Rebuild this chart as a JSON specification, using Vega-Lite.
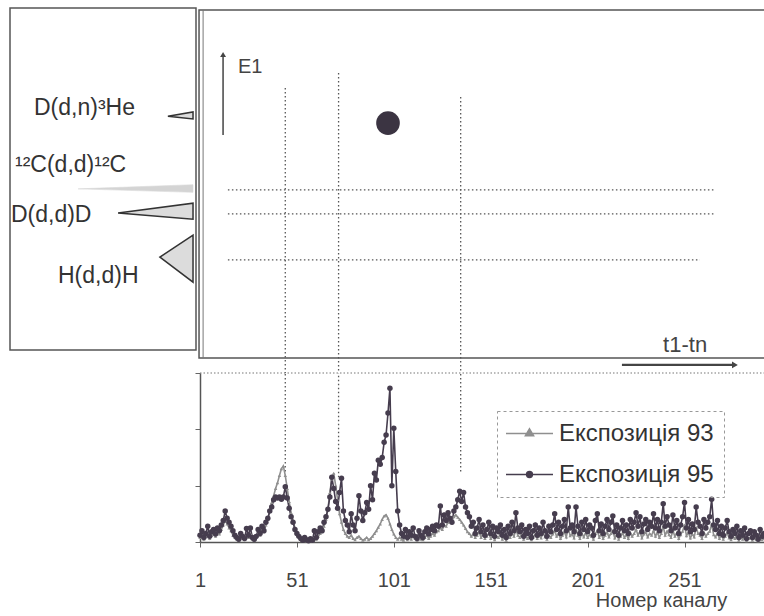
{
"$schema": "https://vega.github.io/schema/vega-lite/v6.json",
"width": 764, "height": 616, "padding": 0, "autosize": {"type": "none"},
"background": "white",
"config": {"view": {"stroke": null}, "font": "Liberation Sans", "legend": {"strokeDash": [3, 3]}},
"datasets": {
"triangles": [
 {"reaction":"D(d,n)³He","intensity":15.1,"e1_low":69.5,"e1_high":69.5},
 {"reaction":"D(d,n)³He","intensity":1.6,"e1_low":68.7,"e1_high":70.7},
 {"reaction":"¹²C(d,d)¹²C","intensity":63.4,"e1_low":48.6,"e1_high":48.6},
 {"reaction":"¹²C(d,d)¹²C","intensity":1.6,"e1_low":47.6,"e1_high":49.8},
 {"reaction":"D(d,d)D","intensity":41.9,"e1_low":41.7,"e1_high":41.7},
 {"reaction":"D(d,d)D","intensity":1.6,"e1_low":39.9,"e1_high":44.5},
 {"reaction":"H(d,d)H","intensity":19.4,"e1_low":29.0,"e1_high":29.0},
 {"reaction":"H(d,d)H","intensity":1.6,"e1_low":21.8,"e1_high":35.3}
],
"levels": [
 {"reaction":"¹²C(d,d)¹²C","e1":48.3,"t_from":15.4,"t_to":266.7},
 {"reaction":"D(d,d)D","e1":41.4,"t_from":15.4,"t_to":266.7},
 {"reaction":"H(d,d)H","e1":28.2,"t_from":15.4,"t_to":259.0}
],
"peaks": [
 {"peak_channel":45,"e1_top":77.6,"count_low":125},
 {"peak_channel":72.5,"e1_top":81.9,"count_low":115},
 {"peak_channel":135.5,"e1_top":75.0,"count_low":125}
],
"event": [{"t_channel":98,"e1":67.5}],
"spectra": [
{"channel":1,"Експозиція 93":8,"Експозиція 95":12},
{"channel":2,"Експозиція 93":12,"Експозиція 95":20},
{"channel":3,"Експозиція 93":5,"Експозиція 95":8},
{"channel":4,"Експозиція 93":10,"Експозиція 95":15},
{"channel":5,"Експозиція 93":15,"Експозиція 95":28},
{"channel":6,"Експозиція 93":6,"Експозиція 95":10},
{"channel":7,"Експозиція 93":12,"Експозиція 95":18},
{"channel":8,"Експозиція 93":15,"Експозиція 95":22},
{"channel":9,"Експозиція 93":10,"Експозиція 95":14},
{"channel":10,"Експозиція 93":18,"Експозиція 95":25},
{"channel":11,"Експозиція 93":14,"Експозиція 95":20},
{"channel":12,"Експозиція 93":22,"Експозиція 95":30},
{"channel":13,"Експозиція 93":30,"Експозиція 95":38},
{"channel":14,"Експозиція 93":38,"Експозиція 95":55},
{"channel":15,"Експозиція 93":32,"Експозиція 95":42},
{"channel":16,"Експозиція 93":25,"Експозиція 95":35},
{"channel":17,"Експозиція 93":20,"Експозиція 95":28},
{"channel":18,"Експозиція 93":12,"Експозиція 95":20},
{"channel":19,"Експозиція 93":8,"Експозиція 95":12},
{"channel":20,"Експозиція 93":5,"Експозиція 95":8},
{"channel":21,"Експозиція 93":3,"Експозиція 95":5},
{"channel":22,"Експозиція 93":10,"Експозиція 95":15},
{"channel":23,"Експозиція 93":6,"Експозиція 95":10},
{"channel":24,"Експозиція 93":4,"Експозиція 95":6},
{"channel":25,"Експозиція 93":12,"Експозиція 95":24},
{"channel":26,"Експозиція 93":8,"Експозиція 95":12},
{"channel":27,"Експозиція 93":15,"Експозиція 95":25},
{"channel":28,"Експозиція 93":5,"Експозиція 95":8},
{"channel":29,"Експозиція 93":3,"Експозиція 95":5},
{"channel":30,"Експозиція 93":8,"Експозиція 95":10},
{"channel":31,"Експозиція 93":15,"Експозиція 95":22},
{"channel":32,"Експозиція 93":12,"Експозиція 95":15},
{"channel":33,"Експозиція 93":22,"Експозиція 95":28},
{"channel":34,"Експозиція 93":18,"Експозиція 95":20},
{"channel":35,"Експозиція 93":30,"Експозиція 95":35},
{"channel":36,"Експозиція 93":40,"Експозиція 95":42},
{"channel":37,"Експозиція 93":55,"Експозиція 95":55},
{"channel":38,"Експозиція 93":70,"Експозиція 95":62},
{"channel":39,"Експозиція 93":82,"Експозиція 95":75},
{"channel":40,"Експозиція 93":95,"Експозиція 95":80},
{"channel":41,"Експозиція 93":105,"Експозиція 95":78},
{"channel":42,"Експозиція 93":118,"Експозиція 95":80},
{"channel":43,"Експозиція 93":130,"Експозиція 95":76},
{"channel":44,"Експозиція 93":135,"Експозиція 95":80},
{"channel":45,"Експозиція 93":118,"Експозиція 95":98},
{"channel":46,"Експозиція 93":95,"Експозиція 95":78},
{"channel":47,"Експозиція 93":72,"Експозиція 95":60},
{"channel":48,"Експозиція 93":52,"Експозиція 95":45},
{"channel":49,"Експозиція 93":38,"Експозиція 95":35},
{"channel":50,"Експозиція 93":25,"Експозиція 95":22},
{"channel":51,"Експозиція 93":15,"Експозиція 95":15},
{"channel":52,"Експозиція 93":10,"Експозиція 95":10},
{"channel":53,"Експозиція 93":5,"Експозиція 95":6},
{"channel":54,"Експозиція 93":3,"Експозиція 95":3},
{"channel":55,"Експозиція 93":4,"Експозиція 95":8},
{"channel":56,"Експозиція 93":2,"Експозиція 95":4},
{"channel":57,"Експозиція 93":1,"Експозиція 95":2},
{"channel":58,"Експозиція 93":3,"Експозиція 95":6},
{"channel":59,"Експозиція 93":2,"Експозиція 95":3},
{"channel":60,"Експозиція 93":8,"Експозиція 95":20},
{"channel":61,"Експозиція 93":5,"Експозиція 95":8},
{"channel":62,"Експозиція 93":10,"Експозиція 95":18},
{"channel":63,"Експозиція 93":15,"Експозиція 95":25},
{"channel":64,"Експозиція 93":18,"Експозиція 95":20},
{"channel":65,"Експозиція 93":28,"Експозиція 95":35},
{"channel":66,"Експозиція 93":40,"Експозиція 95":45},
{"channel":67,"Експозиція 93":58,"Експозиція 95":58},
{"channel":68,"Експозиція 93":88,"Експозиція 95":80},
{"channel":69,"Експозиція 93":112,"Експозиція 95":115},
{"channel":70,"Експозиція 93":122,"Експозиція 95":95},
{"channel":71,"Експозиція 93":100,"Експозиція 95":72},
{"channel":72,"Експозиція 93":75,"Експозиція 95":60},
{"channel":73,"Експозиція 93":50,"Експозиція 95":88},
{"channel":74,"Експозиція 93":35,"Експозиція 95":113},
{"channel":75,"Експозиція 93":22,"Експозиція 95":55},
{"channel":76,"Експозиція 93":15,"Експозиція 95":38},
{"channel":77,"Експозиція 93":10,"Експозиція 95":30},
{"channel":78,"Експозиція 93":8,"Експозиція 95":18},
{"channel":79,"Експозиція 93":12,"Експозиція 95":50},
{"channel":80,"Експозиція 93":6,"Експозиція 95":30},
{"channel":81,"Експозиція 93":4,"Експозиція 95":20},
{"channel":82,"Експозиція 93":8,"Експозиція 95":42},
{"channel":83,"Експозиція 93":10,"Експозиція 95":82},
{"channel":84,"Експозиція 93":6,"Експозиція 95":55},
{"channel":85,"Експозиція 93":3,"Експозиція 95":38},
{"channel":86,"Експозиція 93":5,"Експозиція 95":52},
{"channel":87,"Експозиція 93":8,"Експозиція 95":70},
{"channel":88,"Експозиція 93":4,"Експозиція 95":58},
{"channel":89,"Експозиція 93":6,"Експозиція 95":100},
{"channel":90,"Експозиція 93":10,"Експозиція 95":75},
{"channel":91,"Експозиція 93":15,"Експозиція 95":122},
{"channel":92,"Експозиція 93":20,"Експозиція 95":110},
{"channel":93,"Експозиція 93":26,"Експозиція 95":145},
{"channel":94,"Експозиція 93":32,"Експозиція 95":138},
{"channel":95,"Експозиція 93":40,"Експозиція 95":150},
{"channel":96,"Експозиція 93":46,"Експозиція 95":177},
{"channel":97,"Експозиція 93":48,"Експозиція 95":190},
{"channel":98,"Експозиція 93":42,"Експозиція 95":229},
{"channel":99,"Експозиція 93":32,"Експозиція 95":273},
{"channel":100,"Експозиція 93":22,"Експозиція 95":100},
{"channel":101,"Експозиція 93":14,"Експозиція 95":202},
{"channel":102,"Експозиція 93":8,"Експозиція 95":125},
{"channel":103,"Експозиція 93":5,"Експозиція 95":55},
{"channel":104,"Експозиція 93":8,"Експозиція 95":30},
{"channel":105,"Експозиція 93":5,"Експозиція 95":15},
{"channel":106,"Експозиція 93":3,"Експозиція 95":10},
{"channel":107,"Експозиція 93":10,"Експозиція 95":22},
{"channel":108,"Експозиція 93":4,"Експозиція 95":8},
{"channel":109,"Експозиція 93":8,"Експозиція 95":18},
{"channel":110,"Експозиція 93":5,"Експозиція 95":12},
{"channel":111,"Експозиція 93":12,"Експозиція 95":25},
{"channel":112,"Експозиція 93":6,"Експозиція 95":10},
{"channel":113,"Експозиція 93":3,"Експозиція 95":6},
{"channel":114,"Експозиція 93":10,"Експозиція 95":20},
{"channel":115,"Експозиція 93":5,"Експозиція 95":12},
{"channel":116,"Експозиція 93":4,"Експозиція 95":8},
{"channel":117,"Експозиція 93":8,"Експозиція 95":18},
{"channel":118,"Експозиція 93":12,"Експозиція 95":25},
{"channel":119,"Експозиція 93":6,"Експозиція 95":14},
{"channel":120,"Експозиція 93":10,"Експозиція 95":22},
{"channel":121,"Експозиція 93":15,"Експозиція 95":28},
{"channel":122,"Експозиція 93":12,"Експозиція 95":20},
{"channel":123,"Експозиція 93":18,"Експозиція 95":30},
{"channel":124,"Експозиція 93":20,"Експозиція 95":28},
{"channel":125,"Експозиція 93":25,"Експозиція 95":64},
{"channel":126,"Експозиція 93":22,"Експозиція 95":30},
{"channel":127,"Експозиція 93":30,"Експозиція 95":48},
{"channel":128,"Експозиція 93":28,"Експозиція 95":38},
{"channel":129,"Експозиція 93":35,"Експозиція 95":52},
{"channel":130,"Експозиція 93":38,"Експозиція 95":42},
{"channel":131,"Експозиція 93":42,"Експозиція 95":35},
{"channel":132,"Експозиція 93":45,"Експозиція 95":55},
{"channel":133,"Експозиція 93":48,"Експозиція 95":62},
{"channel":134,"Експозиція 93":44,"Експозиція 95":75},
{"channel":135,"Експозиція 93":40,"Експозиція 95":90},
{"channel":136,"Експозиція 93":35,"Експозиція 95":72},
{"channel":137,"Експозиція 93":30,"Експозиція 95":88},
{"channel":138,"Експозиція 93":24,"Експозиція 95":62},
{"channel":139,"Експозиція 93":18,"Експозиція 95":52},
{"channel":140,"Експозиція 93":15,"Експозиція 95":45},
{"channel":141,"Експозиція 93":10,"Експозиція 95":28},
{"channel":142,"Експозиція 93":14,"Експозиція 95":35},
{"channel":143,"Експозиція 93":8,"Експозиція 95":15},
{"channel":144,"Експозиція 93":12,"Експозиція 95":25},
{"channel":145,"Експозиція 93":18,"Експозиція 95":40},
{"channel":146,"Експозиція 93":8,"Експозиція 95":18},
{"channel":147,"Експозиція 93":14,"Експозиція 95":30},
{"channel":148,"Експозиція 93":6,"Експозиція 95":12},
{"channel":149,"Експозиція 93":10,"Експозиція 95":22},
{"channel":150,"Експозиція 93":15,"Експозиція 95":35},
{"channel":151,"Експозиція 93":6,"Експозиція 95":15},
{"channel":152,"Експозиція 93":12,"Експозиція 95":28},
{"channel":153,"Експозиція 93":4,"Експозиція 95":10},
{"channel":154,"Експозиція 93":10,"Експозиція 95":25},
{"channel":155,"Експозиція 93":8,"Експозиція 95":18},
{"channel":156,"Експозиція 93":15,"Експозиція 95":30},
{"channel":157,"Експозиція 93":5,"Експозиція 95":12},
{"channel":158,"Експозиція 93":10,"Експозиція 95":22},
{"channel":159,"Експозиція 93":3,"Експозиція 95":8},
{"channel":160,"Експозиція 93":12,"Експозиція 95":28},
{"channel":161,"Експозиція 93":8,"Експозиція 95":15},
{"channel":162,"Експозиція 93":15,"Експозиція 95":35},
{"channel":163,"Експозиція 93":10,"Експозиція 95":20},
{"channel":164,"Експозиція 93":22,"Експозиція 95":52},
{"channel":165,"Експозиція 93":12,"Експозиція 95":25},
{"channel":166,"Експозиція 93":8,"Експозиція 95":18},
{"channel":167,"Експозиція 93":14,"Експозиція 95":30},
{"channel":168,"Експозиція 93":5,"Експозиція 95":10},
{"channel":169,"Експозиція 93":10,"Експозиція 95":22},
{"channel":170,"Експозиція 93":6,"Експозиція 95":15},
{"channel":171,"Експозиція 93":12,"Експозиція 95":28},
{"channel":172,"Експозиція 93":4,"Експозиція 95":8},
{"channel":173,"Експозиція 93":9,"Експозиція 95":20},
{"channel":174,"Експозиція 93":14,"Експозиція 95":30},
{"channel":175,"Експозиція 93":6,"Експозиція 95":12},
{"channel":176,"Експозиція 93":11,"Експозиція 95":25},
{"channel":177,"Експозиція 93":7,"Експозиція 95":15},
{"channel":178,"Експозиція 93":16,"Експозиція 95":35},
{"channel":179,"Експозиція 93":9,"Експозиція 95":20},
{"channel":180,"Експозиція 93":5,"Експозиція 95":10},
{"channel":181,"Експозиція 93":12,"Експозиція 95":28},
{"channel":182,"Експозиція 93":8,"Експозиція 95":18},
{"channel":183,"Експозиція 93":14,"Експозиція 95":30},
{"channel":184,"Експозиція 93":20,"Експозиція 95":50},
{"channel":185,"Експозиція 93":10,"Експозиція 95":22},
{"channel":186,"Експозиція 93":15,"Експозиція 95":35},
{"channel":187,"Експозиція 93":6,"Експозиція 95":15},
{"channel":188,"Експозиція 93":12,"Експозиція 95":28},
{"channel":189,"Експозиція 93":18,"Експозиція 95":40},
{"channel":190,"Експозиція 93":9,"Експозиція 95":20},
{"channel":191,"Експозиція 93":25,"Експозиція 95":62},
{"channel":192,"Експозиція 93":11,"Експозиція 95":25},
{"channel":193,"Експозиція 93":14,"Експозиція 95":30},
{"channel":194,"Експозиція 93":7,"Експозиція 95":18},
{"channel":195,"Експозиція 93":22,"Експозиція 95":62},
{"channel":196,"Експозиція 93":12,"Експозиція 95":28},
{"channel":197,"Експозиція 93":6,"Експозиція 95":15},
{"channel":198,"Експозиція 93":15,"Експозиція 95":35},
{"channel":199,"Експозиція 93":9,"Експозиція 95":22},
{"channel":200,"Експозиція 93":16,"Експозиція 95":40},
{"channel":201,"Експозиція 93":8,"Експозиція 95":18},
{"channel":202,"Експозиція 93":13,"Експозиція 95":30},
{"channel":203,"Експозиція 93":10,"Експозиція 95":25},
{"channel":204,"Експозиція 93":5,"Експозиція 95":12},
{"channel":205,"Експозиція 93":15,"Експозиція 95":38},
{"channel":206,"Експозиція 93":20,"Експозиція 95":50},
{"channel":207,"Експозиція 93":8,"Експозиція 95":20},
{"channel":208,"Експозиція 93":14,"Експозиція 95":32},
{"channel":209,"Експозиція 93":6,"Експозиція 95":15},
{"channel":210,"Експозиція 93":12,"Експозиція 95":28},
{"channel":211,"Експозиція 93":17,"Експозиція 95":40},
{"channel":212,"Експозиція 93":9,"Експозиція 95":22},
{"channel":213,"Експозиція 93":15,"Експозиція 95":35},
{"channel":214,"Експозиція 93":20,"Експозиція 95":46},
{"channel":215,"Експозиція 93":7,"Експозиція 95":18},
{"channel":216,"Експозиція 93":13,"Експозиція 95":30},
{"channel":217,"Експозиція 93":5,"Експозиція 95":12},
{"channel":218,"Експозиція 93":10,"Експозиція 95":25},
{"channel":219,"Експозиція 93":16,"Експозиція 95":38},
{"channel":220,"Експозиція 93":8,"Експозиція 95":20},
{"channel":221,"Експозиція 93":13,"Експозиція 95":30},
{"channel":222,"Експозиція 93":6,"Експозиція 95":15},
{"channel":223,"Експозиція 93":17,"Експозиція 95":40},
{"channel":224,"Експозиція 93":10,"Експозиція 95":25},
{"channel":225,"Експозиція 93":15,"Експозиція 95":35},
{"channel":226,"Експозиція 93":22,"Експозиція 95":52},
{"channel":227,"Експозиція 93":12,"Експозиція 95":28},
{"channel":228,"Експозиція 93":18,"Експозиція 95":45},
{"channel":229,"Експозиція 93":7,"Експозиція 95":18},
{"channel":230,"Експозиція 93":14,"Експозиція 95":32},
{"channel":231,"Експозиція 93":17,"Експозиція 95":40},
{"channel":232,"Експозиція 93":9,"Експозиція 95":22},
{"channel":233,"Експозиція 93":15,"Експозиція 95":35},
{"channel":234,"Експозиція 93":12,"Експозиція 95":28},
{"channel":235,"Експозиція 93":20,"Експозиція 95":50},
{"channel":236,"Експозиція 93":10,"Експозиція 95":25},
{"channel":237,"Експозиція 93":17,"Експозиція 95":40},
{"channel":238,"Експозиція 93":8,"Експозиція 95":20},
{"channel":239,"Експозиція 93":15,"Експозиція 95":35},
{"channel":240,"Експозиція 93":28,"Експозиція 95":68},
{"channel":241,"Експозиція 93":12,"Експозиція 95":28},
{"channel":242,"Експозиція 93":19,"Експозиція 95":45},
{"channel":243,"Експозиція 93":13,"Експозиція 95":30},
{"channel":244,"Експозиція 93":8,"Експозиція 95":20},
{"channel":245,"Експозиція 93":20,"Експозиція 95":48},
{"channel":246,"Експозиція 93":10,"Експозиція 95":25},
{"channel":247,"Експозиція 93":16,"Експозиція 95":38},
{"channel":248,"Експозиція 93":6,"Експозиція 95":15},
{"channel":249,"Експозиція 93":13,"Експозиція 95":30},
{"channel":250,"Експозиція 93":19,"Експозиція 95":45},
{"channel":251,"Експозиція 93":30,"Експозиція 95":70},
{"channel":252,"Експозиція 93":11,"Експозиція 95":25},
{"channel":253,"Експозиція 93":17,"Експозиція 95":40},
{"channel":254,"Експозиція 93":7,"Експозиція 95":18},
{"channel":255,"Експозиція 93":14,"Експозиція 95":32},
{"channel":256,"Експозиція 93":9,"Експозиція 95":22},
{"channel":257,"Експозиція 93":26,"Експозиція 95":62},
{"channel":258,"Експозиція 93":15,"Експозиція 95":35},
{"channel":259,"Експозиція 93":12,"Експозиція 95":28},
{"channel":260,"Експозиція 93":6,"Експозиція 95":15},
{"channel":261,"Експозиція 93":17,"Експозиція 95":40},
{"channel":262,"Експозиція 93":10,"Експозиція 95":25},
{"channel":263,"Експозиція 93":15,"Експозиція 95":35},
{"channel":264,"Експозиція 93":19,"Експозиція 95":45},
{"channel":265,"Експозиція 93":32,"Експозиція 95":76},
{"channel":266,"Експозиція 93":13,"Експозиція 95":30},
{"channel":267,"Експозиція 93":9,"Експозиція 95":22},
{"channel":268,"Експозиція 93":16,"Експозиція 95":38},
{"channel":269,"Експозиція 93":6,"Експозиція 95":15},
{"channel":270,"Експозиція 93":12,"Експозиція 95":28},
{"channel":271,"Експозиція 93":5,"Експозиція 95":12},
{"channel":272,"Експозиція 93":10,"Експозиція 95":25},
{"channel":273,"Експозиція 93":16,"Експозиція 95":38},
{"channel":274,"Експозиція 93":7,"Експозиція 95":18},
{"channel":275,"Експозиція 93":4,"Експозиція 95":10},
{"channel":276,"Експозиція 93":9,"Експозиція 95":22},
{"channel":277,"Експозиція 93":6,"Експозиція 95":15},
{"channel":278,"Експозиція 93":12,"Експозиція 95":28},
{"channel":279,"Експозиція 93":3,"Експозиція 95":8},
{"channel":280,"Експозиція 93":8,"Експозиція 95":20},
{"channel":281,"Експозиція 93":5,"Експозиція 95":12},
{"channel":282,"Експозиція 93":10,"Експозиція 95":25},
{"channel":283,"Експозиція 93":2,"Експозиція 95":6},
{"channel":284,"Експозиція 93":6,"Експозиція 95":15},
{"channel":285,"Експозиція 93":8,"Експозиція 95":20},
{"channel":286,"Експозиція 93":3,"Експозиція 95":8},
{"channel":287,"Експозиція 93":7,"Експозиція 95":18},
{"channel":288,"Експозиція 93":5,"Експозиція 95":12},
{"channel":289,"Експозиція 93":2,"Експозиція 95":5},
{"channel":290,"Експозиція 93":9,"Експозиція 95":22},
{"channel":291,"Експозиція 93":4,"Експозиція 95":10},
{"channel":292,"Експозиція 93":6,"Експозиція 95":15}
]
},
"layer": [
 {
  "layer": [
   {"data": {"values": [{}]},
    "mark": {"type": "rect", "fill": "transparent", "stroke": "#555", "strokeWidth": 1.5},
    "encoding": {
     "x": {"datum": 0, "type": "quantitative", "scale": {"domain": [0, 100], "range": [196, 10], "nice": false, "zero": false}, "axis": null},
     "x2": {"datum": 100},
     "y": {"datum": 2.3, "type": "quantitative", "scale": {"domain": [0, 100], "range": [358, 10], "nice": false, "zero": false}, "axis": null},
     "y2": {"datum": 100.6}}},
   {"data": {"name": "triangles"},
    "transform": [{"filter": "datum.reaction !== '¹²C(d,d)¹²C'"}],
    "mark": {"type": "area", "orient": "vertical", "fill": "#dcdcdc", "stroke": "#333", "strokeWidth": 1.5},
    "encoding": {
     "x": {"field": "intensity", "type": "quantitative"},
     "y": {"field": "e1_low", "type": "quantitative"},
     "y2": {"field": "e1_high"},
     "detail": {"field": "reaction"}}},
   {"data": {"name": "triangles"},
    "transform": [{"filter": "datum.reaction === '¹²C(d,d)¹²C'"}],
    "mark": {"type": "area", "orient": "vertical", "fill": "#cfcfcf", "fillOpacity": 0.9, "stroke": "#dadada", "strokeWidth": 0.6},
    "encoding": {
     "x": {"field": "intensity", "type": "quantitative"},
     "y": {"field": "e1_low", "type": "quantitative"},
     "y2": {"field": "e1_high"},
     "detail": {"field": "reaction"}}},
   {"data": {"values": [{}]},
    "mark": {"type": "text", "text": "D(d,n)³He", "align": "left", "baseline": "middle", "fontSize": 23, "color": "#333"},
    "encoding": {"x": {"datum": 87.1, "type": "quantitative"}, "y": {"datum": 71.8, "type": "quantitative"}}},
   {"data": {"values": [{}]},
    "mark": {"type": "text", "text": "¹²C(d,d)¹²C", "align": "left", "baseline": "middle", "fontSize": 23, "color": "#333"},
    "encoding": {"x": {"datum": 97.3, "type": "quantitative"}, "y": {"datum": 55.5, "type": "quantitative"}}},
   {"data": {"values": [{}]},
    "mark": {"type": "text", "text": "D(d,d)D", "align": "left", "baseline": "middle", "fontSize": 23, "color": "#333"},
    "encoding": {"x": {"datum": 99.5, "type": "quantitative"}, "y": {"datum": 41.1, "type": "quantitative"}}},
   {"data": {"values": [{}]},
    "mark": {"type": "text", "text": "H(d,d)H", "align": "left", "baseline": "middle", "fontSize": 23, "color": "#333"},
    "encoding": {"x": {"datum": 74.2, "type": "quantitative"}, "y": {"datum": 23.6, "type": "quantitative"}}}
  ]
 },
 {
  "layer": [
   {"data": {"values": [{}]},
    "mark": {"type": "rect", "fill": "transparent", "stroke": "#555", "strokeWidth": 1.5},
    "encoding": {
     "x": {"datum": 0.5, "type": "quantitative", "scale": {"domain": [1, 292], "range": [200, 764], "nice": false, "zero": false}, "axis": null},
     "x2": {"datum": 300},
     "y": {"datum": 0, "type": "quantitative", "scale": {"domain": [0, 100], "range": [358, 10], "nice": false, "zero": false}, "axis": null},
     "y2": {"datum": 100}}},
   {"data": {"values": [{}]},
    "mark": {"type": "rule", "stroke": "#777", "strokeWidth": 1},
    "encoding": {"x": {"datum": 2.6, "type": "quantitative"}, "y": {"datum": 0, "type": "quantitative"}, "y2": {"datum": 100}}},
   {"data": {"name": "peaks"},
    "mark": {"type": "rule", "stroke": "#555", "strokeWidth": 1.3, "strokeDash": [1.5, 2.5]},
    "encoding": {"x": {"field": "peak_channel", "type": "quantitative"}, "y": {"field": "e1_top", "type": "quantitative"}, "y2": {"datum": -4.3}}},
   {"data": {"name": "levels"},
    "mark": {"type": "rule", "stroke": "#555", "strokeWidth": 1.3, "strokeDash": [1.5, 2.5]},
    "encoding": {"x": {"field": "t_from", "type": "quantitative"}, "x2": {"field": "t_to"}, "y": {"field": "e1", "type": "quantitative"}}},
   {"data": {"name": "event"},
    "mark": {"type": "point", "filled": true, "size": 560, "color": "#3b3442", "opacity": 1},
    "encoding": {"x": {"field": "t_channel", "type": "quantitative"}, "y": {"field": "e1", "type": "quantitative"}}},
   {"data": {"values": [{}]},
    "mark": {"type": "rule", "stroke": "#444", "strokeWidth": 1.5},
    "encoding": {"x": {"datum": 12.9, "type": "quantitative"}, "y": {"datum": 64.1, "type": "quantitative"}, "y2": {"datum": 86.5}}},
   {"data": {"values": [{}]},
    "mark": {"type": "point", "shape": "triangle-up", "filled": true, "size": 35, "color": "#444", "opacity": 1},
    "encoding": {"x": {"datum": 12.9, "type": "quantitative"}, "y": {"datum": 87.2, "type": "quantitative"}}},
   {"data": {"values": [{}]},
    "mark": {"type": "text", "text": "E1", "align": "left", "baseline": "middle", "fontSize": 20, "color": "#444"},
    "encoding": {"x": {"datum": 20.6, "type": "quantitative"}, "y": {"datum": 83.6, "type": "quantitative"}}},
   {"data": {"values": [{}]},
    "mark": {"type": "text", "text": "t1-tn", "align": "center", "baseline": "middle", "fontSize": 22, "color": "#444"},
    "encoding": {"x": {"datum": 251.3, "type": "quantitative"}, "y": {"datum": 3.7, "type": "quantitative"}}},
   {"data": {"values": [{}]},
    "mark": {"type": "rule", "stroke": "#444", "strokeWidth": 2.2},
    "encoding": {"x": {"datum": 218.7, "type": "quantitative"}, "x2": {"datum": 276.0}, "y": {"datum": -2.0, "type": "quantitative"}}},
   {"data": {"values": [{}]},
    "mark": {"type": "point", "shape": "triangle-right", "filled": true, "size": 45, "color": "#444", "opacity": 1},
    "encoding": {"x": {"datum": 277.0, "type": "quantitative"}, "y": {"datum": -2.0, "type": "quantitative"}}}
  ]
 },
 {
  "layer": [
   {"data": {"values": [{}]},
    "mark": {"type": "rule", "stroke": "#777", "strokeWidth": 1.2, "strokeDash": [1.5, 2]},
    "encoding": {"x": {"datum": 1, "type": "quantitative"}, "x2": {"datum": 292}, "y": {"datum": 300, "type": "quantitative"}}},
   {"data": {"name": "peaks"},
    "mark": {"type": "rule", "stroke": "#555", "strokeWidth": 1.3, "strokeDash": [1.5, 2.5]},
    "encoding": {"x": {"field": "peak_channel", "type": "quantitative"}, "y": {"field": "count_low", "type": "quantitative"}, "y2": {"datum": 300}}},
   {"data": {"name": "spectra"},
    "transform": [{"fold": ["Експозиція 93", "Експозиція 95"], "as": ["series", "count"]}],
    "mark": {"type": "line", "strokeWidth": 1.6},
    "encoding": {
     "x": {"field": "channel", "type": "quantitative",
      "scale": {"domain": [1, 292], "range": [200, 764], "nice": false, "zero": false},
      "axis": {"orient": "bottom", "offset": -74, "values": [1, 51, 101, 151, 201, 251], "labelFontSize": 20, "labelColor": "#444", "labelPadding": 23, "tickSize": 5, "tickColor": "#666", "domainColor": "#555", "domainWidth": 1.5, "grid": false, "labelFlush": false, "title": "Номер каналу", "titleFontSize": 20, "titleFontWeight": "normal", "titleColor": "#444", "titleX": 661, "titleY": 58, "titleAlign": "center", "titleBaseline": "middle"}},
     "y": {"field": "count", "type": "quantitative",
      "scale": {"domain": [0, 300], "range": [542, 373], "nice": false},
      "axis": {"orient": "left", "offset": -200, "values": [0, 100, 200, 300], "labels": false, "tickSize": 5, "tickColor": "#666", "domainColor": "#555", "domainWidth": 1.5, "grid": false, "title": null}},
     "color": {"field": "series", "type": "nominal",
      "scale": {"domain": ["Експозиція 93", "Експозиція 95"], "range": ["#8f8f8f", "#463d4e"]},
      "legend": {"orient": "none", "legendX": 497, "legendY": 411, "title": null, "labelFontSize": 24, "labelColor": "#333", "symbolType": "M-2,0H2", "symbolSize": 552, "symbolStrokeWidth": 1.5, "symbolOffset": 10, "labelOffset": 17, "padding": 10, "rowPadding": 16, "strokeColor": "#999",
       "encode": {"symbols": {"update": {
        "shape": {"signal": "datum.value === 'Експозиція 93' ? 'M-2,0H2M0,-0.4L0.35,0.2H-0.35Z' : 'M-2,0H2M-0.25,0A0.25,0.25 0 1,0 0.25,0A0.25,0.25 0 1,0 -0.25,0'"},
        "fill": {"signal": "datum.value === 'Експозиція 93' ? '#8f8f8f' : '#463d4e'"}}}}}}}},
   {"data": {"name": "spectra"},
    "mark": {"type": "point", "filled": true, "opacity": 1, "shape": "triangle-up", "size": 12, "color": "#8f8f8f"},
    "encoding": {
     "x": {"field": "channel", "type": "quantitative"},
     "y": {"field": "Експозиція 93", "type": "quantitative"}}},
   {"data": {"name": "spectra"},
    "mark": {"type": "point", "filled": true, "opacity": 1, "shape": "circle", "size": 30, "color": "#463d4e"},
    "encoding": {
     "x": {"field": "channel", "type": "quantitative"},
     "y": {"field": "Експозиція 95", "type": "quantitative"}}}
  ]
 }
],
"resolve": {"scale": {"x": "independent", "y": "independent"}}
}
